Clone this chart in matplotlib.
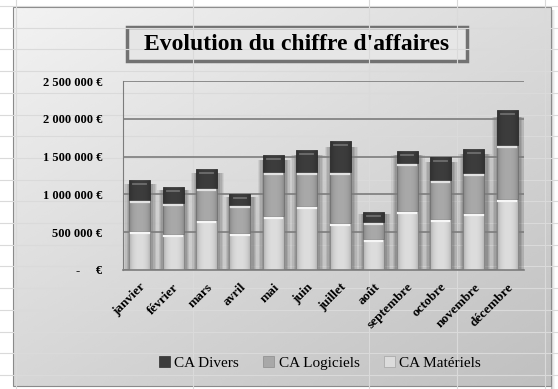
import numpy as np
import matplotlib
matplotlib.use("Agg")
from matplotlib import pyplot as plt
from matplotlib.patches import Rectangle
from matplotlib.transforms import offset_copy

mois = ["janvier", "février", "mars", "avril", "mai", "juin", "juillet",
        "août", "septembre", "octobre", "novembre", "décembre"]
ca_materiels = [520000, 480000, 660000, 490000, 710000, 840000, 620000,
                410000, 780000, 670000, 750000, 940000]
ca_logiciels = [410000, 410000, 425000, 375000, 590000, 460000, 670000,
                220000, 640000, 520000, 530000, 720000]
ca_divers = [260000, 210000, 250000, 145000, 220000, 290000, 410000,
             140000, 160000, 300000, 320000, 450000]
titre = "Evolution du chiffre d'affaires"

serif = ["Liberation Serif", "DejaVu Serif"]
plt.rcParams['font.family'] = serif

W, H = 558, 389
fig = plt.figure(figsize=(W / 100, H / 100), dpi=100)
fig.patch.set_facecolor("white")

# fond : quadrillage de la feuille + zone de graphique en degrade
bg = fig.add_axes([0, 0, 1, 1])
bg.set_xlim(0, W)
bg.set_ylim(H, 0)
bg.axis("off")
for yy in np.arange(6, H, 21.7):
    bg.plot([0, W], [yy, yy], color="#dadada", lw=0.8)
for xx in [16, 193, 369, 457, 545]:
    bg.plot([xx, xx], [0, H], color="#dadada", lw=0.8)
for i, a in enumerate([0.25, 0.15, 0.08, 0.04]):
    bg.add_patch(Rectangle((551 + i, 10), 1.2, H, color="black", alpha=a, lw=0))
gx, gy = np.meshgrid(np.linspace(0, 1, 200), np.linspace(0, 1, 200))
grad = 0.95 - 0.11 * gy - 0.09 * gx
bg.imshow(grad, cmap="gray", vmin=0, vmax=1, extent=(13, 551, 386, 7),
          aspect="auto", interpolation="bicubic")
bg.add_patch(Rectangle((13, 7), 538, 379, fill=False, ec="#8a8a8a", lw=0.8))
bg.add_patch(Rectangle((127, 27), 340, 34, fc="#e6e6e6", ec="#727272", lw=2.5))
bg.text(297, 44.5, titre, ha="center", va="center", fontsize=17,
        fontweight="bold", color="black")
bg.set_xlim(0, W)
bg.set_ylim(H, 0)

ax = fig.add_axes([123 / W, 1 - 270 / H, 401 / W, 189 / H])
ax.set_zorder(1)
ax.patch.set_alpha(0)

x = np.arange(len(mois))
largeur = 0.63
mat = np.array(ca_materiels)
log = np.array(ca_logiciels)
div = np.array(ca_divers)
total = mat + log + div

# ombres portees derriere les colonnes
for w, a in [(1.0, 0.06), (0.92, 0.08), (0.84, 0.09), (0.76, 0.1)]:
    ax.bar(x + 0.03, total * 0.96, width=w, color="black", alpha=a, lw=0, zorder=0.5)

ax.set_ylim(0, 2500000)
ax.set_yticks(np.arange(0, 2500001, 500000))
ax.grid(axis="y", color="#7c7c7c", lw=1.2, zorder=1)
ax.set_axisbelow(True)

b_mat = ax.bar(x, mat, width=largeur, color="#dcdcdc", ec="#a4a4a4", lw=0.5,
               label="CA Matériels", zorder=2)
b_log = ax.bar(x, log, bottom=mat, width=largeur, color="#a8a8a8", ec="#8c8c8c",
               lw=0.5, label="CA Logiciels", zorder=2)
b_div = ax.bar(x, div, bottom=mat + log, width=largeur, color="#3c3c3c",
               ec="#2e2e2e", lw=0.5, label="CA Divers", zorder=2)

# effet de biseau sur chaque segment
shade = np.zeros((1, 64, 4))
t = np.linspace(-1, 1, 64)
shade[0, :, 3] = 0.22 * np.abs(t) ** 3
for cont in (b_mat, b_log, b_div):
    for p in cont:
        im = ax.imshow(shade, extent=(p.get_x(), p.get_x() + p.get_width(),
                                      p.get_y(), p.get_y() + p.get_height()),
                       aspect="auto", interpolation="bicubic", zorder=2.1)
        im.set_clip_path(p)

down3 = offset_copy(ax.transData, fig=fig, y=-2, units="dots")
down5 = offset_copy(ax.transData, fig=fig, y=-4, units="dots")
for xi, m, l, d in zip(x, mat, log, div):
    xs = [xi - largeur * 0.42, xi + largeur * 0.42]
    ax.plot(xs, [m, m], color="#f6f6f6", lw=1.6, transform=down3, zorder=2.2)
    ax.plot(xs, [m + l, m + l], color="#e2e2e2", lw=1.6, transform=down3, zorder=2.2)
    ax.plot([xi - largeur * 0.3, xi + largeur * 0.3], [m + l + d] * 2,
            color="#6e6e6e", lw=1.3, transform=down5, zorder=2.2)

ax.set_xlim(-0.5, len(mois) - 0.5)
ax.set_ylim(0, 2500000)


def euro(v):
    if v == 0:
        return "-     €"
    return f"{v:,.0f} €".replace(",", " ")


ax.set_yticklabels([euro(v) for v in ax.get_yticks()], fontsize=9,
                   fontweight="bold")
ax.set_xticks(x)
ax.set_xticklabels(mois, rotation=45, ha="right", rotation_mode="anchor",
                   fontsize=9.5, fontweight="bold")
ax.tick_params(axis="y", length=0, pad=15)
ax.tick_params(axis="x", length=0, pad=8)
for s in ["top", "right"]:
    ax.spines[s].set_visible(False)
ax.spines["left"].set_color("#7c7c7c")
ax.spines["bottom"].set_color("#7c7c7c")
ax.spines["bottom"].set_linewidth(1.2)

fig.legend(handles=[b_div, b_log, b_mat], loc="center",
           bbox_to_anchor=(320 / W, 1 - 363 / H), ncol=3, frameon=False,
           fontsize=11, handlelength=0.7, handleheight=0.7,
           handletextpad=0.3, columnspacing=1.6)

fig.savefig("out.png", dpi=100)
